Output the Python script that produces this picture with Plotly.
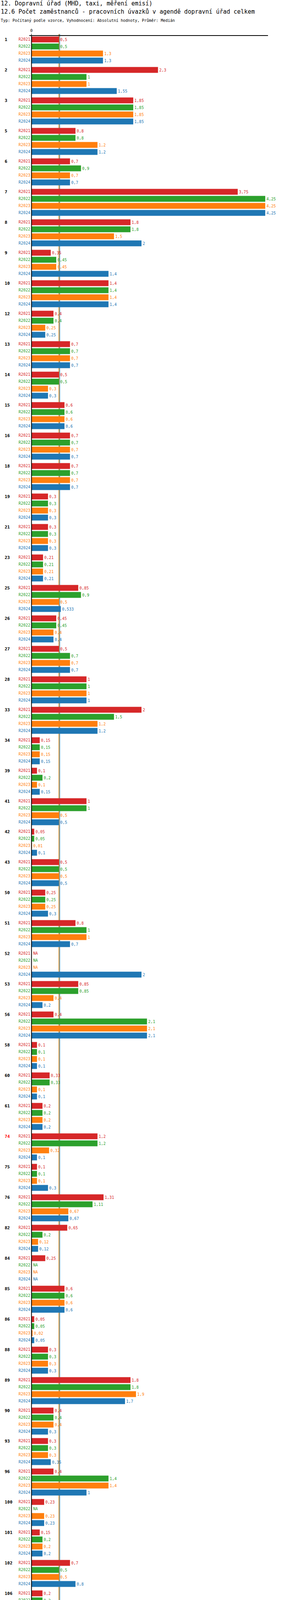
import plotly.graph_objects as go

# --- data (NA = None) ---
groups = ["1", "2", "3", "5", "6", "7", "8", "9", "10", "12",
          "13", "14", "15", "16", "18", "19", "21", "23", "25",
          "26", "27", "28", "33", "34", "39", "41", "42", "43",
          "50", "51", "52", "53", "56", "58", "60", "61", "74",
          "75", "76", "82", "84", "85", "86", "88", "89", "90",
          "93", "96", "100", "101", "102", "106", "111", "112", "113",
          "114", "115", "118", "121", "122", "125", "126", "129", "130",
          "131", "132", "134", "135", "136", "137", "138", "139", "140",
          "141", "144", "145", "146", "147", "151", "152", "153"]

r2021 = [0.5, 2.3, 1.85, 0.8, 0.7, 3.75, 1.8, 0.35, 1.4, 0.4,
         0.7, 0.5, 0.6, 0.7, 0.7, 0.3, 0.3, 0.21, 0.85,
         0.45, 0.5, 1, 2, 0.15, 0.1, 1, 0.05, 0.5,
         0.25, 0.8, None, 0.85, 0.4, 0.1, 0.33, 0.2, 1.2,
         0.1, 1.31, 0.65, 0.25, 0.6, 0.05, 0.3, 1.8, 0.4,
         0.3, 0.4, 0.23, 0.15, 0.7, 0.2, 0.6, 1, 0.9,
         0.55, 0.2, None, 0.1, 0.25, 0.4, 0.9, None, 1.45,
         0.1, 0.5, 0.7, 0.41, 0.2, 0.2, None, 1.18, 2,
         0.5, 1.52, None, None, None, None, None, None]

r2022 = [0.5, 1, 1.85, 0.8, 0.9, 4.25, 1.8, 0.45, 1.4, 0.4,
         0.7, 0.5, 0.6, 0.7, 0.7, 0.3, 0.3, 0.21, 0.9,
         0.45, 0.7, 1, 1.5, 0.15, 0.2, 1, 0.05, 0.5,
         0.25, 1, None, 0.85, 2.1, 0.1, 0.33, 0.2, 1.2,
         0.1, 1.11, 0.2, None, 0.6, 0.05, 0.3, 1.8, 0.4,
         0.3, 1.4, None, 0.2, 0.5, 0.2, 0.6, 1, 0.65,
         0.55, 0.2, None, 0.1, 0.1, 0.4, 0.9, None, 1.45,
         0.1, 0.5, 0.2, 0.5, 0.2, 0.2, None, 1.18, 2.5,
         0.5, 1.52, 0.22, 2.75, 0.7, None, None, None]

r2023 = [1.3, 1, 1.85, 1.2, 0.7, 4.25, 1.5, 0.45, 1.4, 0.25,
         0.7, 0.3, 0.6, 0.7, 0.7, 0.3, 0.3, 0.21, 0.5,
         0.4, 0.7, 1, 1.2, 0.15, 0.1, 0.5, 0.01, 0.5,
         0.25, 1, None, 0.4, 2.1, 0.1, 0.1, 0.2, 0.32,
         0.1, 0.67, 0.12, None, 0.6, 0.02, 0.3, 1.9, 0.4,
         0.3, 1.4, 0.23, 0.2, 0.5, 0.3, 0.7, 1, 0.65,
         0.5, 0.2, None, 0.1, 0.1, 0.4, 0.9, 0.5, 1.45,
         0.1, 0.5, 0.2, 0.55, 0.2, 0.2, None, 0.69, 2,
         0.4, 1.52, 0.05, 2, 1, None, 1, None]

r2024 = [1.3, 1.55, 1.85, 1.2, 0.7, 4.25, 2, 1.4, 1.4, 0.25,
         0.7, 0.3, 0.6, 0.7, 0.7, 0.3, 0.3, 0.21, 0.533,
         0.4, 0.7, 1, 1.2, 0.15, 0.15, 0.5, 0.1, 0.5,
         0.3, 0.7, 2, 0.2, 2.1, 0.1, 0.1, 0.2, 0.1,
         0.3, 0.67, 0.12, None, 0.6, 0.05, 0.3, 1.7, 0.3,
         0.35, 1, 0.23, 0.2, 0.8, 0.4, 2, 1, 0.77,
         0.5, 0.2, None, 0.1, 0.1, 0.4, 1.5, 0.5, 1.45,
         0.1, 0.5, 0.2, 0.53, 0.2, 0.1, None, 1.43, 1.1,
         0.6, 1.52, 1.1, 2, 1, 0.013, 1, 0.3]

highlighted = ["74"]

periods = ["R2021", "R2022", "R2023", "R2024"]
period_names = ["Realita - 2021", "Realita - 2022", "Realita - 2023", "Realita - 2024"]
medians = [0.5, 0.5, 0.5, 0.515]
mins = [0.05, 0.05, 0.01, 0.013]
maxs = [3.75, 4.25, 4.25, 4.25]

colors = ["#d62728", "#2ca02c", "#ff7f0e", "#1f77b4"]
series = [r2021, r2022, r2023, r2024]

FONT = "DejaVu Sans Mono"
W, H = 750, 6560
ML, MR, MT, MB = 75, 64, 92, 149
PW, PH = W - ML - MR, H - MT - MB
X_RANGE = [-0.04, 4.3]
GROUP_STEP, BAR_STEP, BAR_W = 78, 18, 15

# pixel gaps turned into x units so labels sit clear of the zero line
px_unit = (X_RANGE[1] - X_RANGE[0]) / PW
LABEL_X = -3 * px_unit
NA_X = 4 * px_unit


def fmt(v):
    return f"{v:g}".replace(".", ",")


def px_x(px):
    return (px - ML) / PW


def px_y(py):
    return (H - MB - py) / PH


fig = go.Figure()

for j, (name, vals, col) in enumerate(zip(periods, series, colors)):
    ys = [i * GROUP_STEP + j * BAR_STEP for i in range(len(groups))]
    have = [(y, v) for y, v in zip(ys, vals) if v is not None]
    na = [y for y, v in zip(ys, vals) if v is None]

    fig.add_trace(go.Bar(
        x=[v for _, v in have],
        y=[y for y, _ in have],
        orientation="h",
        width=BAR_W,
        marker=dict(color=col, line=dict(width=0)),
        text=[fmt(v) for _, v in have],
        textposition="outside",
        constraintext="none",
        textfont=dict(family=FONT, size=10, color=col),
        cliponaxis=False,
        hoverinfo="skip",
        showlegend=False,
    ))

    # period label left of the axis
    fig.add_trace(go.Scatter(
        x=[LABEL_X] * len(ys), y=ys, mode="text",
        text=[name] * len(ys), textposition="middle left",
        textfont=dict(family=FONT, size=10, color=col),
        cliponaxis=False, hoverinfo="skip", showlegend=False,
    ))

    if na:
        fig.add_trace(go.Scatter(
            x=[NA_X] * len(na), y=na, mode="text",
            text=["NA"] * len(na), textposition="middle right",
            textfont=dict(family=FONT, size=10, color=col),
            cliponaxis=False, hoverinfo="skip", showlegend=False,
        ))

# median lines (behind bars)
shapes = []
for med, col in zip(medians, colors):
    shapes.append(dict(type="line", xref="x", yref="paper", x0=med, x1=med,
                       y0=0, y1=1.0008, layer="below",
                       line=dict(color=col, width=1.2)))
# zero line
shapes.append(dict(type="line", xref="x", yref="paper", x0=0, x1=0, y0=0, y1=1,
                   layer="above", line=dict(color="black", width=2)))

annotations = []
# group labels
for i, g in enumerate(groups):
    col = "red" if g in highlighted else "black"
    annotations.append(dict(
        x=px_x(10), xref="paper", xanchor="left",
        y=i * GROUP_STEP, yref="y", yanchor="middle",
        text=f"<b>{g}</b>", showarrow=False,
        font=dict(family=FONT, size=11, color=col),
    ))

# titles
titles = [
    ("12. Dopravní úřad (MHD, taxi, měření emisí)", 8.5, 15),
    ("12.6 Počet zaměstnanců - pracovních úvazků v agendě dopravní úřad celkem", 30, 15),
    ("Typ: Počítaný podle vzorce, Vyhodnocení: Absolutní hodnoty, Průměr: Medián", 52, 10),
]
for txt, py, size in titles:
    annotations.append(dict(
        x=px_x(0), xref="paper", xanchor="left",
        y=px_y(py), yref="paper", yanchor="middle",
        text=txt, showarrow=False,
        font=dict(family=FONT, size=size, color="black"),
    ))

# legend of periods
leg_pos = [(79, 6432), (379, 6432), (79, 6452), (379, 6452)]
for (lx, ly), p, pn, col in zip(leg_pos, periods, period_names, colors):
    annotations.append(dict(
        x=px_x(lx), xref="paper", xanchor="left",
        y=px_y(ly), yref="paper", yanchor="middle",
        text=f"Období[{p}]: {pn}", showarrow=False,
        font=dict(family=FONT, size=10, color=col),
    ))

# statistics rows
for k, col in enumerate(colors):
    py = 6482 + k * 20
    for lx, label in [(79, f"Medián: {fmt(medians[k])}"),
                      (330, f"Min: {fmt(mins[k])}"),
                      (530, f"Max: {fmt(maxs[k])}")]:
        annotations.append(dict(
            x=px_x(lx), xref="paper", xanchor="left",
            y=px_y(py), yref="paper", yanchor="middle",
            text=label, showarrow=False,
            font=dict(family=FONT, size=10, color=col),
        ))

fig.update_layout(
    width=W, height=H,
    margin=dict(l=ML, r=MR, t=MT, b=MB, pad=0),
    paper_bgcolor="white", plot_bgcolor="white",
    barmode="overlay",
    font=dict(family=FONT, size=10, color="black"),
    xaxis=dict(
        range=X_RANGE, side="top",
        tickvals=[0], ticktext=["0"],
        ticks="outside", ticklen=4, tickcolor="black",
        tickfont=dict(family=FONT, size=10, color="black"),
        showline=True, linecolor="black", linewidth=1.5,
        showgrid=False, zeroline=False, fixedrange=True,
    ),
    yaxis=dict(
        range=[(len(groups) - 1) * GROUP_STEP + 3 * BAR_STEP + 16, -9],
        visible=False, fixedrange=True,
    ),
    shapes=shapes,
    annotations=annotations,
)

fig.write_html("out.html", config={"displayModeBar": False},
               post_script="document.body.style.margin='0';")
